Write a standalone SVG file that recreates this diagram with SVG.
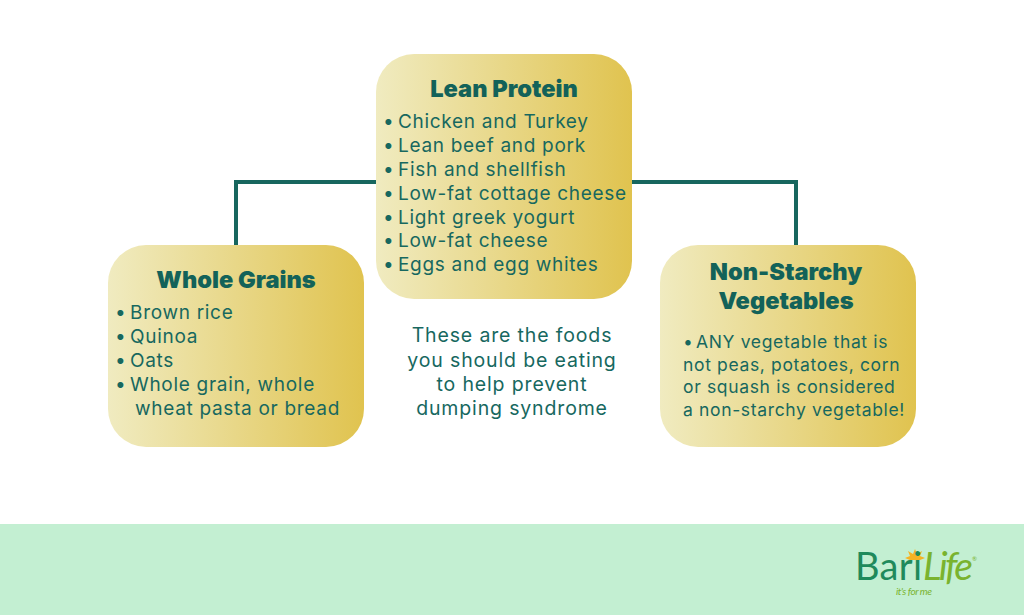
<svg xmlns="http://www.w3.org/2000/svg" width="1024" height="615" viewBox="0 0 1024 615">
<defs><linearGradient id="g" x1="0" x2="1" y1="0" y2="0"><stop offset="0" stop-color="#f0ebc0"/><stop offset="1" stop-color="#e0c34f"/></linearGradient></defs>
<style>
.box{fill:url(#g)}
.t{font-family:"Inter","Noto Sans",sans-serif;font-size:19px;fill:#17685f;letter-spacing:.7px}
.h{font-family:"Inter","Noto Sans",sans-serif;font-size:23.6px;font-weight:900;fill:#136259;text-anchor:middle}
.c{text-anchor:middle}
.n{font-size:19.5px;letter-spacing:.85px}
.s{font-size:17.5px;letter-spacing:.65px}
.line{fill:none;stroke:#17665e;stroke-width:4}
.l{font-family:"Lato",sans-serif}
</style>
<rect width="1024" height="615" fill="#fff"/>
<rect y="524" width="1024" height="91" fill="#c3efd2"/>
<g id="connectors"><path class="line" d="M236 246V182H376M632 182H796V246"/></g>
<g id="protein"><rect class="box" x="376" y="54" width="256" height="245" rx="38"/>
<text class="h" x="504" y="97">Lean Protein</text>
<text class="t" x="383" y="128">•<tspan x="398">Chicken and Turkey</tspan></text>
<text class="t" x="383" y="152">•<tspan x="398">Lean beef and pork</tspan></text>
<text class="t" x="383" y="176">•<tspan x="398">Fish and shellfish</tspan></text>
<text class="t" x="383" y="200">•<tspan x="398">Low-fat cottage cheese</tspan></text>
<text class="t" x="383" y="224">•<tspan x="398">Light greek yogurt</tspan></text>
<text class="t" x="383" y="247">•<tspan x="398">Low-fat cheese</tspan></text>
<text class="t" x="383" y="271">•<tspan x="398">Eggs and egg whites</tspan></text></g>
<g id="grains"><rect class="box" x="108" y="245" width="256" height="202" rx="38"/>
<text class="h" x="236" y="288">Whole Grains</text>
<text class="t" x="115" y="319">•<tspan x="130">Brown rice</tspan></text>
<text class="t" x="115" y="343">•<tspan x="130">Quinoa</tspan></text>
<text class="t" x="115" y="367">•<tspan x="130">Oats</tspan></text>
<text class="t" x="115" y="391">•<tspan x="130">Whole grain, whole</tspan></text>
<text class="t" x="135" y="415">wheat pasta or bread</text></g>
<g id="veg"><rect class="box" x="660" y="245" width="256" height="202" rx="38"/>
<text class="h" x="786" y="280">Non-Starchy</text>
<text class="h" x="786" y="309">Vegetables</text>
<text class="t s" x="683" y="348">•<tspan x="696">ANY vegetable that is</tspan></text>
<text class="t s" x="683" y="371">not peas, potatoes, corn</text>
<text class="t s" x="683" y="393">or squash is considered</text>
<text class="t s" x="683" y="416">a non-starchy vegetable!</text></g>
<g id="note">
<text class="t c n" x="512" y="342">These are the foods</text>
<text class="t c n" x="512" y="367">you should be eating</text>
<text class="t c n" x="512" y="391">to help prevent</text>
<text class="t c n" x="512" y="415">dumping syndrome</text></g>
<g id="logo">
<polygon points="915,549 917,554 922,551 920,556 925,558 920,560 910,560 905,558 910,556 908,551 913,554" fill="#f5b324"/>
<text class="l" x="855" y="580" style="font-size:38px;fill:#1f8a5b" textLength="67">Bari</text>
<text class="l" x="923" y="580" style="font-size:39px;font-style:italic;fill:#7ab32e" textLength="50">Life</text>
<text class="l" x="972" y="561" style="font-size:6px;fill:#7ab32e">®</text>
<text class="l" x="896" y="595" style="font-size:10px;font-style:italic;fill:#7ab32e" textLength="36">it's for me</text>
</g>
</svg>
